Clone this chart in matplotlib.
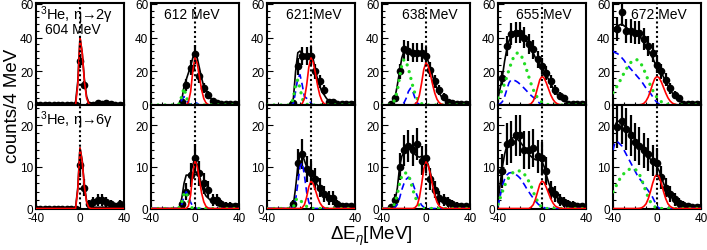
import numpy as np
import matplotlib.pyplot as plt
from matplotlib.ticker import MultipleLocator

plt.rcParams['font.family'] = ['Liberation Sans', 'DejaVu Sans']
plt.rcParams['mathtext.fontset'] = 'custom'
plt.rcParams['mathtext.rm'] = 'Liberation Sans'
plt.rcParams['mathtext.it'] = 'Liberation Sans:italic'
plt.rcParams['axes.unicode_minus'] = False

beam_energies = ['604', '612', '621', '638', '655', '672']
bins = list(range(-40, 41, 4))   # data bin centres, MeV
grid = list(range(-40, 41, 2))   # fit curve sample points, MeV

# eta -> 2 gamma (top row): data
top_counts = [
    [0] * 10 + [26, 12, 0, 0, 1, 0.5, 1, 0.5, 0, 0, 0],
    [None] * 7 + [2, 12, 22, 30, 17, 10, 6, 2.5, 1, 0.5, 0.5, 0.5, 0.5, 0.5],
    [None] * 6 + [1, 23, 29, 29, 29, 20, 14, 9, 2, 1.5, 0.5, 0.5, 0.5, 0.5, 0.5],
    [None] * 2 + [0.5, 4, 20, 33, 32, 31, 31, 31, 29, 21, 14, 9, 5, 2, 1, 0.5, 0.5, 0.5, 0.3],
    [None] + [16, 35, 42, 43, 43, 40, 36, 33, 27, 23, 19, 14, 9, 5.5, 4, 0.5, 0.5, 0.5, 0.5, 0.5],
    [None] + [45, 55, 44, 44, 43, 43, 39, 35, 31, 24, 20, 15, 10, 6, 4, 0.5, 0.5, 0.5, 0.5, 0.5],
]
top_errors = [
    [0] * 10 + [4, 2.5, 0, 0, 1, 0.7, 1, 0.7, 0, 0, 0],
    [None] * 7 + [1.5, 3.5, 4.5, 5.5, 4, 3, 2.5, 1.6, 1, 0.7, 0.7, 0.7, 0.7, 0.7],
    [None] * 6 + [1, 5, 5.5, 5.5, 5.5, 4.5, 3.7, 3, 1.4, 1.2, 0.7, 0.7, 0.7, 0.7, 0.7],
    [None] * 2 + [0.7, 2, 4.5, 5.8, 5.7, 5.6, 5.6, 5.6, 5.4, 4.6, 3.7, 3, 2.2, 1.4, 1, 0.7, 0.7, 0.7, 0.5],
    [None] + [4, 6, 6.5, 6.5, 6.5, 6.3, 6, 5.7, 5.2, 4.8, 4.4, 3.7, 3, 2.3, 2, 0.7, 0.7, 0.7, 0.7, 0.7],
    [None] + [7, 8, 7, 7, 7, 7, 6.5, 6, 5.6, 5, 4.5, 3.9, 3.2, 2.4, 2, 0.7, 0.7, 0.7, 0.7, 0.7],
]

# eta -> 2 gamma: fit curves
top_total = [
    [0] * 17 + [0.3, 2, 14, 40, 31, 15, 5, 1.5, 0.8] + [0.6] * 15,
    [0] * 13 + [0.5, 3, 11, 15, 19, 23, 28, 31, 28, 22, 16, 11, 8, 6, 4, 3, 2, 1.2, 0.8] + [0.5] * 9,
    [0] * 11 + [0.5, 4, 20, 31, 32, 30, 29, 29, 29, 30, 27, 21, 15, 11, 8, 6, 4, 2.5, 1.5, 1, 0.7] + [0.4] * 9,
    [0] * 4 + [0.3, 2, 5, 12, 20, 28, 32, 33, 32, 31, 30, 30, 30, 30, 30, 30, 29, 26, 22, 17,
               13, 10, 7, 5, 3.5, 2.2, 1.5, 1, 0.7, 0.5] + [0.4] * 7,
    [4, 10, 17, 26, 33, 38, 41, 43, 44, 44, 43, 42, 40, 38, 36, 33, 31, 28, 26, 24,
     22, 20, 18, 15, 13, 10, 8, 6, 5, 4, 3, 2, 1.2, 0.7] + [0.4] * 7,
    [45, 46, 47, 47.5, 48, 47, 46, 45, 44, 43.5, 43, 42, 41, 39, 37, 35, 33, 30, 28, 25,
     23, 21, 19, 16.5, 14, 11.5, 9, 7, 5.5, 4, 3, 2, 1.2, 0.7] + [0.4] * 7,
]
top_signal = [
    [0] * 18 + [0.2, 12, 40, 31, 14, 4, 0.7] + [0] * 16,
    [0] * 17 + [1.6, 7.8, 20, 28, 24.7, 17, 9, 3.8, 1.2, 0.3] + [0] * 14,
    [0] * 16 + [0.8, 3.8, 11.5, 22.4, 28, 25.4, 18.9, 11.5, 5.8, 2.4, 0.8, 0.2] + [0] * 13,
    [0] * 15 + [0.4, 1.8, 5.8, 13, 21.2, 25, 23.1, 18.2, 12.2, 7, 3.4, 1.4, 0.5, 0.15] + [0] * 12,
    [0] * 14 + [0.2, 0.75, 2.3, 5.5, 10.3, 15, 17, 15.9, 13, 9.4, 5.9, 3.3, 1.6, 0.7, 0.25, 0.08] + [0] * 11,
    [0] * 12 + [0.1, 0.34, 0.95, 2.3, 4.7, 8.3, 12.3, 15.7, 17, 16.1, 13.6, 10.3, 7, 4.2, 2.3, 1.1,
                0.5, 0.2] + [0] * 11,
]
top_green = [
    None,
    [0] * 13 + [0.85, 5.4, 10, 5.4, 0.85] + [0] * 23,
    [0] * 11 + [0.5, 4, 12, 15, 10, 4, 1, 0.5] + [0] * 22,
    [0] * 5 + [1.2, 3.7, 8.8, 16.4, 23.8, 27, 25.5, 21.6, 16.4, 11.1, 6.7, 3.7, 1.8, 0.8, 0.3] + [0] * 21,
    [4.2, 6.4, 9.2, 12.7, 16.7, 20.9, 24.8, 28.1, 30.2, 31, 30.2, 28.1, 24.8, 20.9, 16.7, 12.7,
     9.2, 6.4, 4.2, 2.7, 1.6, 0.9, 0.5, 0.2] + [0] * 17,
    [7.3, 9.3, 11.5, 13.9, 16.4, 18.9, 21.2, 23.4, 25.1, 26.3, 26.9, 26.8, 25.8, 23.8, 21.1, 18,
     14.7, 11.6, 8.8, 6.4, 4.4, 2.9, 1.9, 1.2, 0.7, 0.4, 0.2] + [0] * 14,
]
top_blue = [
    None,
    [0] * 14 + [3, 5, 3, 1, 0.5, 1, 1.5, 1] + [0] * 19,
    [0] * 12 + [1, 8, 16, 18, 12, 5, 4, 3, 1] + [0] * 20,
    [0] * 9 + [0.3, 1.3, 4, 8, 10, 8, 4.1, 1.3, 0.3] + [0] * 23,
    [0.2, 0.7, 2, 4.9, 9.1, 13.2, 15, 14.8, 14.3, 13.5, 12.4, 11.1, 9.8, 8.4, 7, 5.7, 4.6, 3.6,
     2, 1, 0.5] + [0] * 20,
    [32, 31, 30.5, 29.5, 28, 26.5, 24.5, 23, 21.5, 20, 18.5, 17, 15.5, 14, 12, 10, 8.5, 7, 5, 3,
     1.5, 0.5] + [0] * 19,
]

# eta -> 6 gamma (bottom row): data
bottom_counts = [
    [0] * 10 + [10.5, 5, 1, 1.5, 2, 2, 1.5, 1, 0.5, 1, 0.5],
    [None] * 7 + [1, 4, 8, 12, 8.5, 6, 4.5, 2, 2, 1, 0.7, 0.7, 0.5, 0.5],
    [None] * 6 + [1, 11, 13, 9.5, 8.5, 7, 5, 3.5, 2.5, 2.5, 1, 0.5, 0.5, 0.5, 0.3],
    [None] * 2 + [0.3, 2, 10, 14, 15, 14, 15.5, 11.5, 12, 7, 4.5, 2.5, 2, 1.5, 1, 0.7, 0.5, 0.5, 0.3],
    [None] + [9, 15.5, 16, 17.5, 17.5, 14, 14, 14.5, 12.5, 12, 9, 4.5, 3.5, 2, 1.5, 1, 0.8, 0.5, 0.5, None],
    [None] + [19.5, 21, 19, 17.5, 16, 15, 14, 13, 11.5, 11, 7.5, 5, 3.5, 2.2, 1.4, 0.8, 0.5, 0.4, 0.4, 0.3],
]
bottom_errors = [
    [0] * 10 + [3, 2, 1, 1.2, 1.4, 1.4, 1.2, 1, 0.7, 1, 0.7],
    [None] * 7 + [1, 2, 2.8, 3.5, 3, 2.5, 2.1, 1.4, 1.4, 1, 0.8, 0.8, 0.7, 0.7],
    [None] * 6 + [1, 3.3, 3.6, 3.1, 2.9, 2.6, 2.2, 1.9, 1.6, 1.6, 1, 0.7, 0.7, 0.7, 0.5],
    [None] * 2 + [0.5, 1.4, 3.2, 3.7, 3.9, 3.7, 3.9, 3.4, 3.5, 2.6, 2.1, 1.6, 1.4, 1.2, 1, 0.8, 0.7, 0.7, 0.5],
    [None] + [4, 5, 5, 5, 5, 4.5, 4.5, 4.5, 4, 4, 3.3, 2.2, 1.9, 1.4, 1.2, 1, 0.9, 0.7, 0.7, None],
    [None] + [5, 5.5, 5, 5, 4.5, 4.5, 4.2, 4, 3.7, 3.5, 2.8, 2.2, 1.9, 1.5, 1.2, 0.9, 0.7, 0.6, 0.6, 0.5],
]

# eta -> 6 gamma: fit curves
bottom_total = [
    [0] * 18 + [0.3, 5, 14.5, 11.5, 5.5, 1.8, 0.6] + [0.3] * 16,
    [0] * 13 + [0.3, 2.5, 6, 8, 8, 8.5, 10.5, 12, 10.5, 8, 5.5, 4, 3, 2.5, 2, 1.5, 1.2, 1, 0.8] + [0.5] * 9,
    [0] * 12 + [1, 5, 10, 13, 13, 11.5, 10, 9, 8.5, 7.5, 6.5, 5.5, 4.5, 3.8, 3.2, 2.7, 2.3, 2, 1.7,
                1.3, 1, 0.8, 0.6, 0.5] + [0.4] * 5,
    [0] * 5 + [0.5, 2, 5, 10, 12.5, 13.5, 14, 14.5, 14, 13.5, 13, 12.5, 12.3, 12.5, 12.5, 12, 10.5,
               8.5, 6.5, 5, 3.8, 3, 2.4, 2, 1.7, 1.4, 1.1, 0.9, 0.7, 0.5] + [0.4] * 6,
    [1.5, 6, 10, 13, 15, 16, 16.7, 17, 17, 16.5, 16, 15.3, 14.5, 13.7, 13, 12.5, 12, 11.7, 11.6,
     11.6, 11.3, 10, 8, 6.2, 4.8, 3.8, 3, 2.5, 2, 1.6, 1.3, 1, 0.8, 0.6, 0.5] + [0.4] * 6,
    [19, 20, 21, 20.8, 20.5, 20, 19.3, 18.6, 18, 17.3, 16.6, 16, 15.4, 14.7, 14, 13.3, 12.5, 11.8,
     11, 10.4, 10, 9, 7.5, 6, 4.8, 3.8, 3, 2.4, 1.9, 1.5, 1.2, 0.9, 0.7, 0.5] + [0.4] * 7,
]
bottom_signal = [
    [0] * 19 + [4.5, 14.5, 11.2, 5.2, 1.5, 0.25] + [0] * 16,
    [0] * 17 + [0.6, 3.2, 8.4, 11.5, 10.1, 7, 3.7, 1.6, 0.5, 0.1] + [0] * 14,
    [0] * 16 + [0.2, 0.9, 2.7, 5.2, 6.5, 5.9, 4.4, 2.7, 1.4, 0.6, 0.2] + [0] * 14,
    [0] * 15 + [0.2, 0.8, 2.6, 5.8, 9.5, 11.2, 10.3, 8.2, 5.5, 3.1, 1.5, 0.6, 0.2] + [0] * 13,
    [0] * 15 + [0.3, 0.9, 2.2, 4, 5.8, 6.6, 6.2, 5, 3.6, 2.3, 1.3, 0.6, 0.3, 0.1] + [0] * 12,
    [0] * 12 + [0.05, 0.17, 0.5, 1.1, 2.3, 4, 6, 7.6, 8.2, 7.6, 6, 4, 2.3, 1.1, 0.5, 0.17] + [0] * 13,
]
bottom_green = [
    None,
    [0] * 13 + [0.3, 1.5, 3.5, 4, 2, 0.5] + [0] * 22,
    [0] * 12 + [0.3, 2, 2.5, 2, 1.5, 1, 0.5, 0.2] + [0] * 21,
    [0] * 5 + [0.3, 1.5, 3.5, 6, 7.8, 8.5, 8.5, 8, 6.5, 4.5, 3, 1.5, 0.6, 0.2] + [0] * 22,
    [1, 2.5, 4, 5.5, 6.5, 7.5, 8.2, 8.7, 9, 9, 9, 8.7, 8.2, 7.5, 6.5, 5.5, 4, 2.8, 1.7, 0.8,
     0.3, 0.1] + [0] * 19,
    [4, 5, 6, 7, 7.8, 8.4, 8.9, 9.3, 9.5, 9.5, 9.4, 9, 8.2, 7, 5.5, 4, 2.7, 1.6, 0.9, 0.4,
     0.2] + [0] * 20,
]
bottom_blue = [
    None,
    [0] * 14 + [1, 3, 4, 3, 1.5, 0.5, 0.2] + [0] * 20,
    [0] * 12 + [0.3, 2, 6, 10, 11, 8, 4, 1.5, 0.3] + [0] * 20,
    [0] * 6 + [0.3, 1, 2.5, 4.5, 6, 7, 7.5, 7, 6, 4.5, 3, 1.7, 0.8, 0.3] + [0] * 21,
    [0.5, 3, 5.5, 7, 8, 8.5, 8.6, 8.5, 8.2, 7.8, 7.3, 6.5, 5.7, 4.8, 4, 3.2, 2.5, 1.8, 1.2, 0.7,
     0.4, 0.2] + [0] * 19,
    [14, 16, 16, 15.5, 15, 14, 13, 12, 11, 10, 9, 8, 7.2, 6.5, 5.8, 5, 4.3, 3.5, 2.7, 1.6,
     0.5, 0.1] + [0] * 19,
]

W, H = 707, 251
fig = plt.figure(figsize=(W / 100, H / 100), dpi=100)
panel_left = [36, 151, 267, 382, 498, 613]
label_x = [0.415, 0.467, 0.53, 0.545, 0.515, 0.52]

rows = [
    (top_counts, top_errors, top_total, top_signal, top_green, top_blue),
    (bottom_counts, bottom_errors, bottom_total, bottom_signal, bottom_green, bottom_blue),
]

for r, (counts, errors, total, signal, green, blue) in enumerate(rows):
    for i in range(6):
        if r == 0:
            ax = fig.add_axes([panel_left[i] / W, (H - 106) / H, 88 / W, 102 / H])
        else:
            ax = fig.add_axes([panel_left[i] / W, (H - 209.5) / H, 88 / W, 103.5 / H])

        y = np.array(counts[i], dtype=float)
        e = np.array(errors[i], dtype=float)
        ax.errorbar(bins, y, yerr=e, fmt='o', color='black', ms=4.5,
                    elinewidth=1.6, capsize=0, zorder=2)
        ax.plot(grid, total[i], color='black', lw=1.2, zorder=3)
        if blue[i] is not None:
            ax.plot(grid, blue[i], color='#0000ff', lw=1.2, ls=(0, (4, 2.5)), zorder=4)
        if green[i] is not None:
            ax.plot(grid, green[i], color='#22dd22', lw=2.4, ls=(0, (0.01, 2.1)),
                    dash_capstyle='round', zorder=5)
        ax.plot(grid, signal[i], color='#ff0000', lw=1.2, zorder=6)
        ax.axvline(0, color='black', lw=1.5, ls=(0, (1, 1.3)), zorder=7)

        ax.set_xlim(-40, 40)
        ax.xaxis.set_major_locator(MultipleLocator(40))
        ax.xaxis.set_minor_locator(MultipleLocator(10))
        if r == 0:
            ax.set_ylim(0, 60.5)
            ax.yaxis.set_major_locator(MultipleLocator(20))
            ax.yaxis.set_minor_locator(MultipleLocator(4))
        else:
            ax.set_ylim(0, 24.8)
            ax.yaxis.set_major_locator(MultipleLocator(10))
            ax.yaxis.set_minor_locator(MultipleLocator(2))
        ax.tick_params(which='both', direction='in', top=False, right=False,
                       labelsize=8.5, pad=2, width=0.8)
        ax.tick_params(which='major', length=4)
        ax.tick_params(which='minor', length=2)
        ax.tick_params(axis='x', labelbottom=(r == 1), pad=2.5)
        for s in ax.spines.values():
            s.set_linewidth(1.5)

        if i == 0:
            decay = r'$^{3}$He, η→2γ' if r == 0 else r'$^{3}$He, η→6γ'
            ax.text(0.04, 0.89 if r == 0 else 0.86, decay, transform=ax.transAxes,
                    ha='left', va='center', fontsize=10.5, zorder=8)
            if r == 0:
                ax.text(label_x[0], 0.745, beam_energies[0] + ' MeV', transform=ax.transAxes,
                        ha='center', va='center', fontsize=10, zorder=8)
        elif r == 0:
            ax.text(label_x[i], 0.89, beam_energies[i] + ' MeV', transform=ax.transAxes,
                    ha='center', va='center', fontsize=10, zorder=8)

fig.text(13 / W, (H - 106) / H, 'counts/4 MeV', rotation=90, ha='center', va='center',
         fontsize=13.5)
fig.text(371 / W, (H - 236) / H, r'ΔE$_{\eta}$[MeV]', ha='center', va='center',
         fontsize=13.5)

fig.savefig('out.png', dpi=100)
